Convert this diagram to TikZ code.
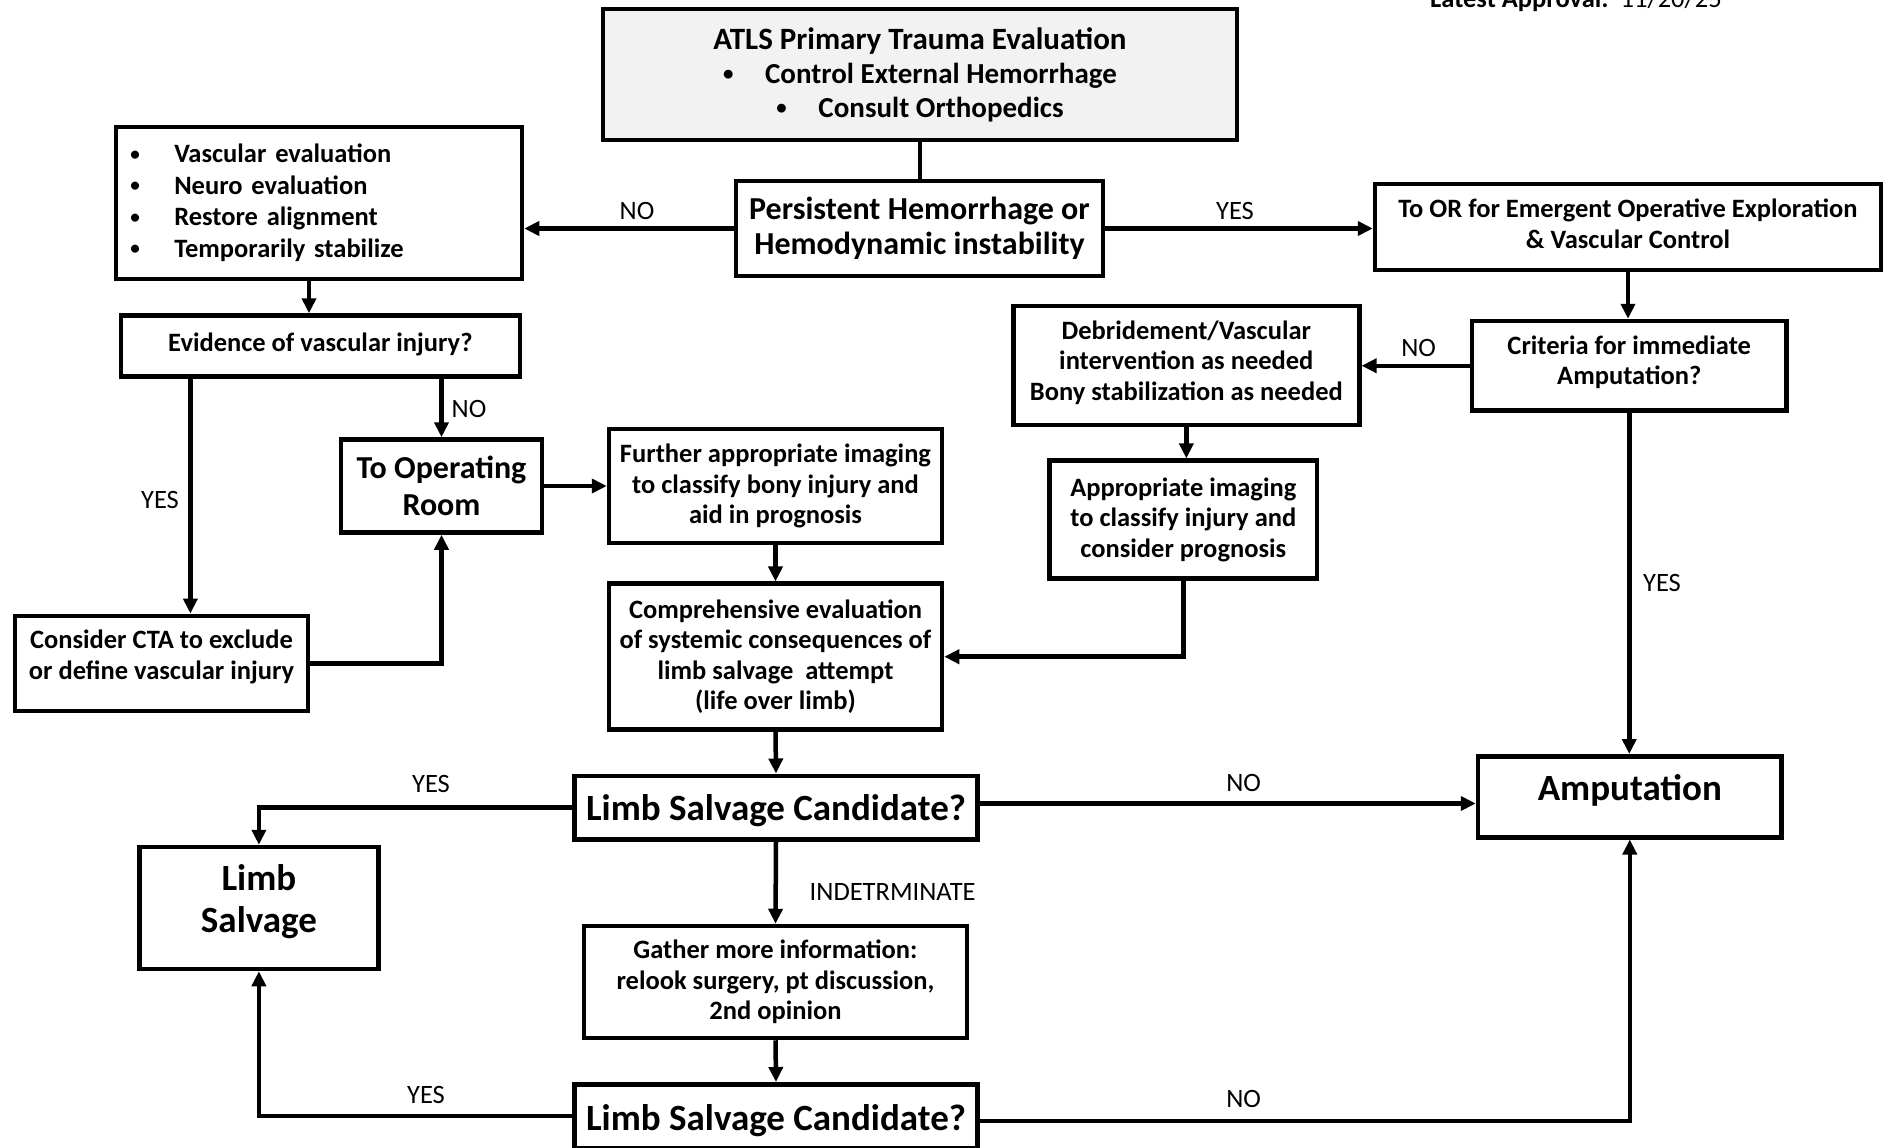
\documentclass[tikz,border=0pt]{standalone}
\usepackage{fontspec}
\usepackage{graphicx}
\setmainfont{Carlito}
\usetikzlibrary{arrows.meta,calc}
\definecolor{boxgray}{HTML}{F2F2F2}
\newcommand{\mybul}{\raisebox{2.5pt}{\scalebox{0.72}{•}}}
\tikzset{
  box/.style={draw, line width=4.5pt, align=center, inner sep=0pt, font=\bfseries\fontsize{26.5}{30.5}\selectfont},
  bigtext/.style={font=\bfseries\fontsize{37}{42.5}\selectfont},
  conn/.style={line width=4.5pt},
  arr/.style={conn, -{Triangle[length=15pt,width=14pt]}},
  lab/.style={font=\fontsize{26.5}{30}\selectfont, inner sep=0pt},
}
\begin{document}
\begin{tikzpicture}[x=1pt,y=-1pt]
\useasboundingbox (0,0) rectangle (1891,1148);

\node[anchor=base west, inner sep=0pt, font=\fontsize{26.5}{30}\selectfont] (approval) at (1430,8) {\textbf{Latest Approval:}\ \ 11/20/25};

\node[box, fill=boxgray, minimum width=634pt, minimum height=131pt, font=\bfseries\fontsize{31}{34}\selectfont] (atls) at (920,74.5)
  {ATLS Primary Trauma Evaluation\\
   {\fontsize{29}{34}\selectfont\makebox[42pt][l]{\mybul}Control External Hemorrhage}\\
   {\fontsize{29}{34}\selectfont\makebox[42pt][l]{\mybul}Consult Orthopedics}};

\node[box, minimum width=367pt, minimum height=95pt, font=\bfseries\fontsize{32}{35}\selectfont] (pers) at (919.5,228.5)
  {Persistent Hemorrhage or\\Hemodynamic instability};

\node[box, minimum width=406pt, minimum height=152pt, text width=377.5pt, align=left, inner xsep=14.25pt, font=\bfseries\fontsize{26.5}{31.5}\selectfont] (vasc) at (319,203)
  {\makebox[44pt][l]{\mybul}Vascular evaluation\\
   \makebox[44pt][l]{\mybul}Neuro evaluation\\
   \makebox[44pt][l]{\mybul}Restore alignment\\
   \makebox[44pt][l]{\mybul}Temporarily stabilize};

\node[box, minimum width=399pt, minimum height=61pt, text depth=8pt] (evid) at (320.4,346) {Evidence of vascular injury?};

\node[box, minimum width=201pt, minimum height=93pt, font=\bfseries\fontsize{32}{37}\selectfont] (toor) at (441.5,486) {To Operating\\Room};

\node[box, minimum width=333pt, minimum height=114pt] (furt) at (775.5,486)
  {Further appropriate imaging\\to classify bony injury and\\aid in prognosis};

\node[box, minimum width=293pt, minimum height=95pt, text depth=17pt] (cta) at (161.5,663.3)
  {Consider CTA to exclude\\or define vascular injury};

\node[box, minimum width=333pt, minimum height=146pt] (comp) at (775.5,656.7)
  {Comprehensive evaluation\\of systemic consequences of\\limb salvage\ \ attempt\\(life over limb)};

\node[box, bigtext, minimum width=403pt, minimum height=63.5pt, text height=27pt, text depth=2pt] (lsc1) at (776,807.5) {Limb Salvage Candidate?};

\node[box, bigtext, minimum width=239pt, minimum height=122pt, text depth=19pt] (ls) at (258.9,908) {Limb\\Salvage};

\node[box, minimum width=383pt, minimum height=112pt] (gath) at (775.5,982)
  {Gather more information:\\relook surgery, pt discussion,\\2nd opinion};

\node[box, bigtext, minimum width=403pt, minimum height=63.5pt, text height=30pt, text depth=1pt] (lsc2) at (776,1116) {Limb Salvage Candidate?};

\node[box, minimum width=506pt, minimum height=86pt, text depth=7pt] (emer) at (1628,227.2)
  {To OR for Emergent Operative Exploration\\\& Vascular Control};

\node[box, minimum width=314.5pt, minimum height=89.5pt, text depth=11pt] (crit) at (1629.25,365.75)
  {Criteria for immediate\\Amputation?};

\node[box, minimum width=346pt, minimum height=119pt, text depth=10pt] (debr) at (1186.35,365.65)
  {Debridement/Vascular\\intervention as needed\\Bony stabilization as needed};

\node[box, minimum width=267.5pt, minimum height=118pt] (appr) at (1183.3,519.65)
  {Appropriate imaging\\to classify injury and\\consider prognosis};

\node[box, bigtext, minimum width=303.6pt, minimum height=81pt, text height=20pt, text depth=13.5pt] (amp) at (1629.8,796.75) {Amputation};

% connectors
\draw[conn] (atls.south) -- (atls.south |- pers.north);
\draw[arr] (pers.west) -- (vasc.east |- pers.west);
\draw[arr] (pers.east) -- (emer.west |- pers.east);
\draw[arr] ([xshift=-10pt]vasc.south) -- ([xshift=-10pt]vasc.south |- evid.north);
\draw[arr] ([xshift=-130pt]evid.south) -- ([xshift=-130pt]evid.south |- cta.north);
\draw[arr] (toor.north |- evid.south) -- (toor.north);
\draw[arr] (toor.east) -- (furt.west);
\draw[arr] (cta.east) -| (toor.south);
\draw[arr] (furt.south) -- (comp.north);
\draw[arr] (appr.south) |- (comp.east);
\draw[arr] (comp.south) -- (lsc1.north);
\draw[arr] (lsc1.west) -| (ls.north);
\draw[arr] ([yshift=4pt]lsc1.east) -- ([yshift=4pt]lsc1.east -| amp.west);
\draw[arr] (lsc1.south) -- (gath.north);
\draw[arr] (gath.south) -- (lsc2.north);
\draw[arr] (lsc2.west) -| (ls.south);
\draw[arr] ([yshift=-5pt]lsc2.east) -| (amp.south);
\draw[arr] (emer.south) -- (emer.south |- crit.north);
\draw[arr] (crit.west) -- (crit.west -| debr.east);
\draw[arr] (crit.south) -- (crit.south |- amp.north);
\draw[arr] (debr.south) -- (debr.south |- appr.north);

% labels
\node[lab] (l1) at (637,211) {NO};
\node[lab] (l2) at (1235,211) {YES};
\node[lab] (l3) at (469,409) {NO};
\node[lab] (l4) at (160,500) {YES};
\node[lab] (l5) at (1418.6,347.8) {NO};
\node[lab] (l6) at (1662,583) {YES};
\node[lab] (l7) at (431,784) {YES};
\node[lab] (l8) at (1243.6,783) {NO};
\node[lab, anchor=west] (l9) at (809.5,891.8) {INDETRMINATE};
\node[lab] (l10) at (426,1095) {YES};
\node[lab] (l11) at (1243.6,1099) {NO};
\end{tikzpicture}
\end{document}
